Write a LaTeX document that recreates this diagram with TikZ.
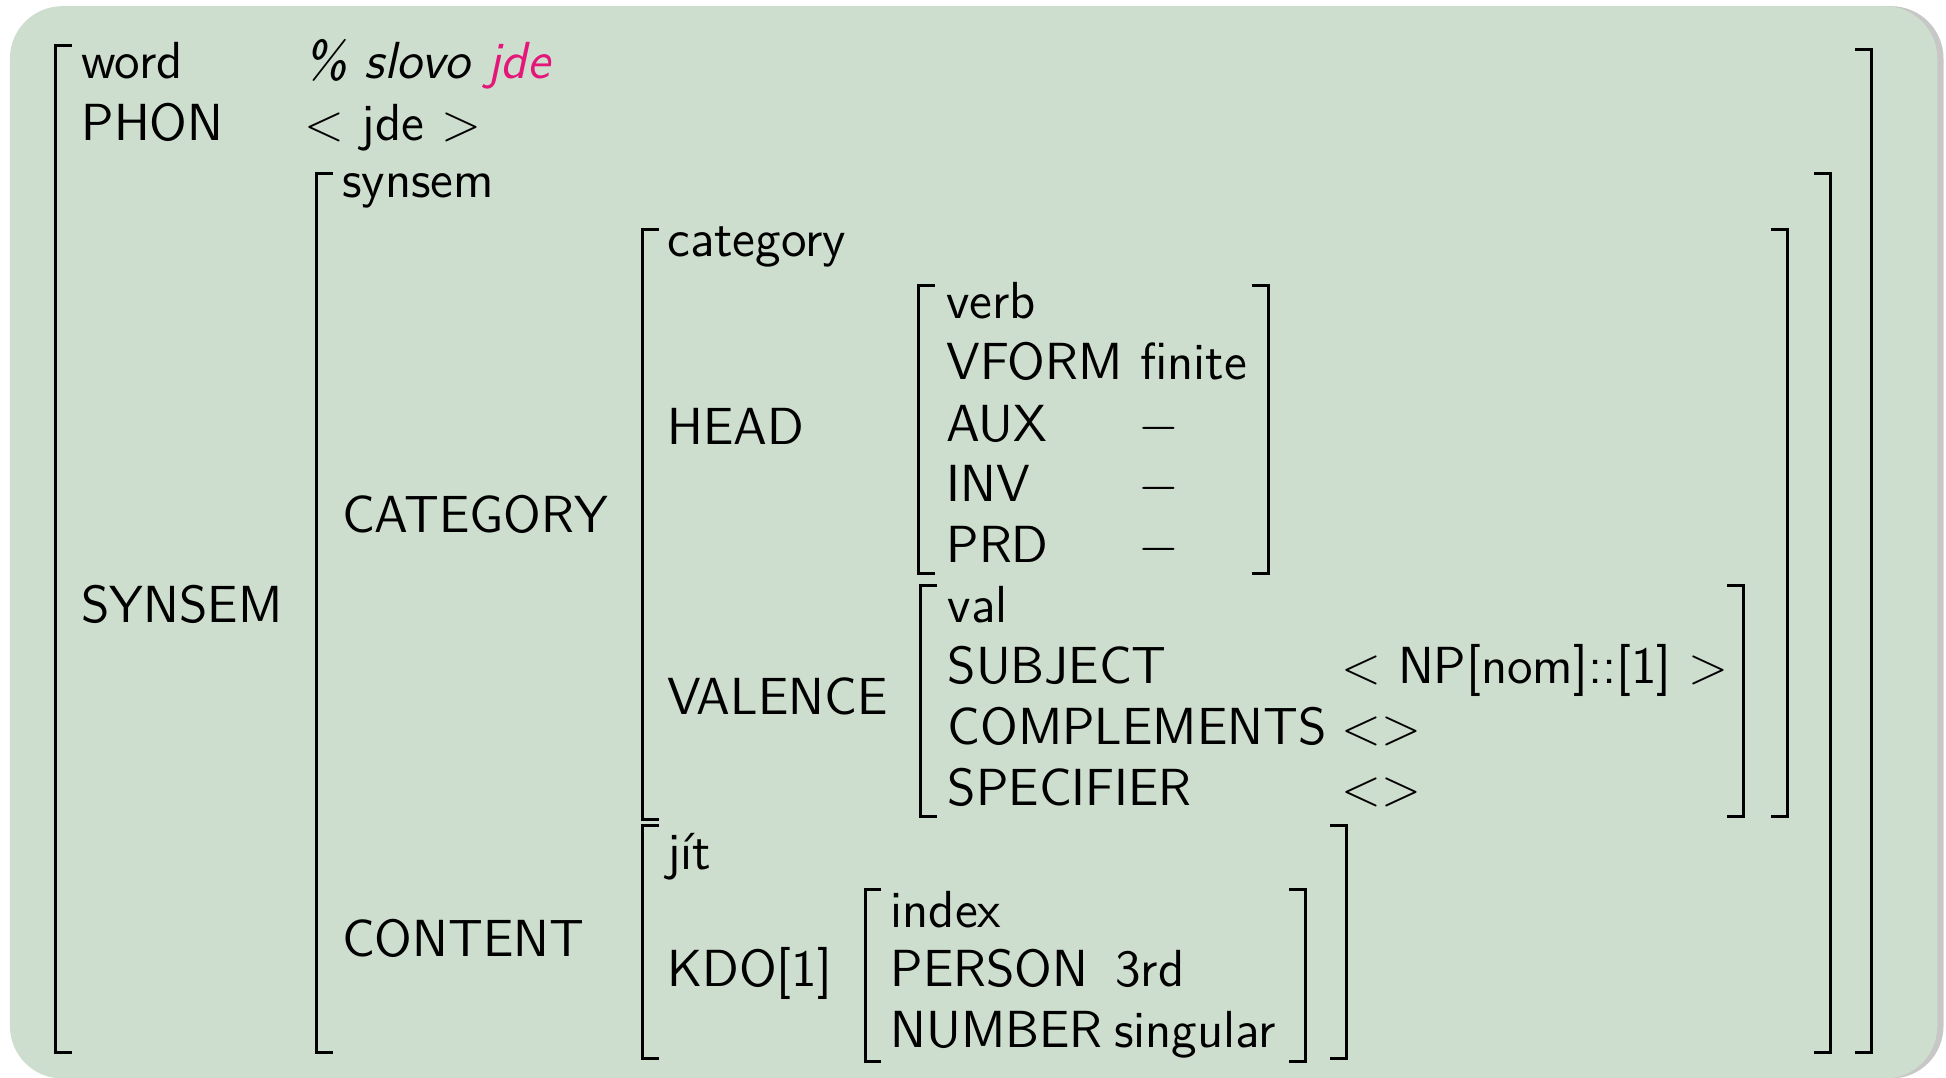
\documentclass[tikz,border=0pt]{standalone}
\usepackage{tikz}
\usepackage{xcolor}
\usetikzlibrary{positioning}

\definecolor{boxgreen}{RGB}{206,222,206}
\definecolor{jdepink}{RGB}{228,22,122}

\begin{document}
\begin{tikzpicture}[x=0.01cm, y=-0.01cm,
        lbl/.style={anchor=base west, inner sep=0pt, font=\fontsize{11.95}{14}\selectfont\sffamily},
        brk/.style={line width=0.68pt, line cap=rect}]
                \useasboundingbox (0,0) rectangle (1568,868);
                \fill[black!22, rounded corners=12] (12,5) rectangle (1566,869);
                \fill[boxgreen, rounded corners=12] (8,5) rectangle (1561,869);

                % outer AVM
                \node[lbl] (W) at (65, 63) {word};
                \node[lbl] (WC) at (245, 63) {\slshape \% slovo \textcolor{jdepink}{jde}};
                \node[lbl] (P) at (65, 113) {PHON};
                \node[lbl] (PV) at (245, 113) {$<$ jde $>$};
                \node[lbl] (S) at (65, 502) {SYNSEM};

                % synsem
                \node[lbl] (SS) at (275, 159) {synsem};
                \node[lbl] (CAT) at (275, 429) {CATEGORY};
                \node[lbl] (CON) at (275, 771) {CONTENT};

                % category
                \node[lbl] (C) at (537, 207) {category};
                \node[lbl] (H) at (537, 358) {HEAD};
                \node[lbl] (V) at (537, 576) {VALENCE};

                % head
                \node[lbl] (HV) at (762, 257) {verb};
                \node[lbl] (VF) at (762, 306) {VFORM};
                \node[lbl] (VFV) at (918, 306) {finite};
                \node[lbl] (AUX) at (762, 356) {AUX};
                \node[lbl] (AUXV) at (917, 356) {$-$};
                \node[lbl] (INV) at (762, 404) {INV};
                \node[lbl] (INVV) at (917, 404) {$-$};
                \node[lbl] (PRD) at (762, 453) {PRD};
                \node[lbl] (PRDV) at (917, 453) {$-$};

                % valence
                \node[lbl] (VA) at (763, 502) {val};
                \node[lbl] (SUB) at (763, 551) {SUBJECT};
                \node[lbl] (SUBV) at (1080, 551) {$<$ NP[nom]::[1] $>$};
                \node[lbl] (COM) at (763, 600) {COMPLEMENTS};
                \node[lbl] (COMV) at (1080, 600) {$<>$};
                \node[lbl] (SPE) at (763, 649) {SPECIFIER};
                \node[lbl] (SPEV) at (1080, 649) {$<>$};

                % content
                \node[lbl] (J) at (537, 701) {jít};
                \node[lbl] (K) at (537, 795) {KDO[1]};
                \node[lbl] (I) at (717, 747) {index};
                \node[lbl] (PER) at (717, 795) {PERSON};
                \node[lbl] (PERV) at (898, 795) {3rd};
                \node[lbl] (NUM) at (717, 844) {NUMBER};
                \node[lbl] (NUMV) at (897, 844) {singular};

                % brackets
                \draw[brk] (57, 37) -- (45, 37) -- (45, 848) -- (57, 848);
                \draw[brk] (1496, 40) -- (1508, 40) -- (1508, 848) -- (1496, 848);
                \draw[brk] (267, 140) -- (255, 140) -- (255, 848) -- (267, 848);
                \draw[brk] (1463, 140) -- (1475, 140) -- (1475, 848) -- (1463, 848);
                \draw[brk] (530, 185) -- (518, 185) -- (518, 660) -- (530, 660);
                \draw[brk] (1428, 185) -- (1440, 185) -- (1440, 658) -- (1428, 658);
                \draw[brk] (752, 230) -- (740, 230) -- (740, 462) -- (752, 462);
                \draw[brk] (1010, 230) -- (1022, 230) -- (1022, 462) -- (1010, 462);
                \draw[brk] (754, 472) -- (742, 472) -- (742, 658) -- (754, 658);
                \draw[brk] (1393, 472) -- (1405, 472) -- (1405, 658) -- (1393, 658);
                \draw[brk] (530, 665) -- (518, 665) -- (518, 853) -- (530, 853);
                \draw[brk] (1073, 665) -- (1085, 665) -- (1085, 853) -- (1073, 853);
                \draw[brk] (709, 717) -- (697, 717) -- (697, 855) -- (709, 855);
                \draw[brk] (1040, 717) -- (1052, 717) -- (1052, 855) -- (1040, 855);
            \end{tikzpicture}
\end{document}
